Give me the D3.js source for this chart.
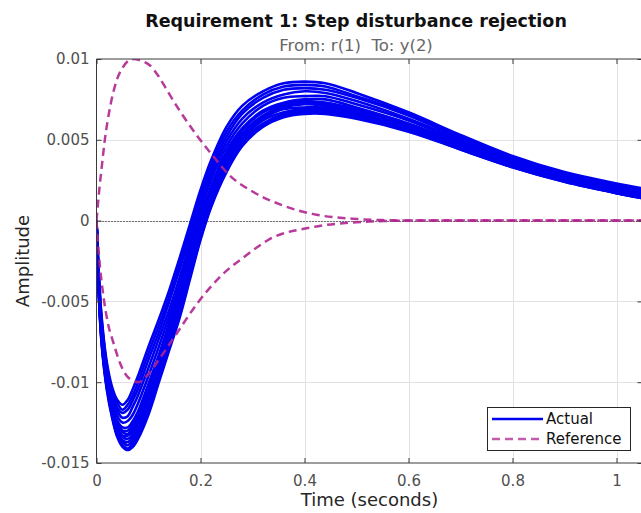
<!DOCTYPE html>
<html>
<head>
<meta charset="utf-8">
<script src="https://cdn.jsdelivr.net/npm/d3@7/dist/d3.min.js"></script>
<style>
  body { margin: 0; background: #fff; }
  svg { display: block; }
  text { font-family: "DejaVu Sans", sans-serif; }
</style>
</head>
<body>
<svg id="chart" width="641" height="513"></svg>
<script>
// ---- data -------------------------------------------------------------
const titleText = "Requirement 1: Step disturbance rejection";
const subtitleText = "From: r(1)  To: y(2)";
const xLabelText = "Time (seconds)";
const yLabelText = "Amplitude";

const xTickValues = [0, 0.2, 0.4, 0.6, 0.8, 1];
const xTickLabels = ["0", "0.2", "0.4", "0.6", "0.8", "1"];
const yTickValues = [-0.015, -0.01, -0.005, 0, 0.005, 0.01];
const yTickLabels = ["-0.015", "-0.01", "-0.005", "0", "0.005", "0.01"];

// sample times shared by every simulated response
const runTime = [0, 0.005, 0.01, 0.02, 0.03, 0.04, 0.05, 0.06, 0.07, 0.08,
                 0.1, 0.12, 0.14, 0.16, 0.18, 0.2, 0.22, 0.25, 0.28, 0.32,
                 0.36, 0.4, 0.44, 0.5, 0.6, 0.7, 0.8, 0.9, 1.0, 1.1];

// step responses of the tuned loop over the uncertain plant set
const runA = [0, -36e-4, -60e-4, -88e-4, -103e-4, -111e-4, -114e-4, -111e-4, -104e-4, -96e-4,
              -78e-4, -61e-4, -43e-4, -23e-4, -2e-4, 19e-4, 37e-4, 58e-4, 71e-4, 80e-4,
              85e-4, 86e-4, 85e-4, 79e-4, 67e-4, 53e-4, 40e-4, 30e-4, 23e-4, 17e-4];
const runB = [0, -37e-4, -62e-4, -90e-4, -105e-4, -113e-4, -117e-4, -114e-4, -108e-4, -100e-4,
              -82e-4, -65e-4, -47e-4, -27e-4, -5e-4, 16e-4, 34e-4, 55e-4, 68e-4, 78e-4,
              83e-4, 84e-4, 83e-4, 77e-4, 66e-4, 52e-4, 39e-4, 29e-4, 22e-4, 16e-4];
const runC = [0, -39e-4, -63e-4, -91e-4, -107e-4, -116e-4, -119e-4, -117e-4, -111e-4, -104e-4,
              -86e-4, -69e-4, -50e-4, -30e-4, -9e-4, 13e-4, 31e-4, 52e-4, 66e-4, 76e-4,
              81e-4, 82e-4, 81e-4, 76e-4, 65e-4, 51e-4, 39e-4, 29e-4, 22e-4, 16e-4];
const runD = [0, -40e-4, -65e-4, -93e-4, -109e-4, -118e-4, -122e-4, -121e-4, -115e-4, -108e-4,
              -91e-4, -73e-4, -55e-4, -35e-4, -13e-4, 9e-4, 28e-4, 49e-4, 63e-4, 73e-4,
              78e-4, 80e-4, 79e-4, 74e-4, 63e-4, 50e-4, 38e-4, 28e-4, 21e-4, 15e-4];
const runE = [0, -42e-4, -67e-4, -95e-4, -111e-4, -121e-4, -125e-4, -124e-4, -120e-4, -113e-4,
              -96e-4, -78e-4, -59e-4, -39e-4, -17e-4, 6e-4, 25e-4, 46e-4, 60e-4, 71e-4,
              76e-4, 77e-4, 77e-4, 72e-4, 62e-4, 49e-4, 37e-4, 27e-4, 20e-4, 14e-4];
const runF = [0, -44e-4, -69e-4, -97e-4, -114e-4, -124e-4, -128e-4, -128e-4, -124e-4, -118e-4,
              -101e-4, -83e-4, -63e-4, -43e-4, -21e-4, 2e-4, 21e-4, 43e-4, 57e-4, 68e-4,
              73e-4, 75e-4, 75e-4, 70e-4, 60e-4, 48e-4, 36e-4, 27e-4, 20e-4, 14e-4];
const runG = [0, -45e-4, -70e-4, -98e-4, -115e-4, -125e-4, -130e-4, -130e-4, -126e-4, -120e-4,
              -104e-4, -85e-4, -66e-4, -46e-4, -23e-4, 0, 19e-4, 41e-4, 56e-4, 67e-4,
              72e-4, 74e-4, 73e-4, 69e-4, 60e-4, 48e-4, 36e-4, 26e-4, 19e-4, 13e-4];
const runH = [0, -45e-4, -71e-4, -99e-4, -116e-4, -126e-4, -131e-4, -132e-4, -128e-4, -122e-4,
              -106e-4, -87e-4, -68e-4, -48e-4, -25e-4, -2e-4, 18e-4, 39e-4, 54e-4, 65e-4,
              71e-4, 73e-4, 72e-4, 68e-4, 59e-4, 47e-4, 35e-4, 26e-4, 19e-4, 13e-4];
const runI = [0, -46e-4, -72e-4, -100e-4, -117e-4, -128e-4, -133e-4, -133e-4, -130e-4, -124e-4,
              -108e-4, -89e-4, -70e-4, -50e-4, -26e-4, -3e-4, 16e-4, 38e-4, 53e-4, 64e-4,
              70e-4, 72e-4, 71e-4, 68e-4, 58e-4, 47e-4, 35e-4, 26e-4, 19e-4, 13e-4];
const runK = [0, -47e-4, -73e-4, -101e-4, -118e-4, -129e-4, -134e-4, -135e-4, -132e-4, -126e-4,
              -111e-4, -91e-4, -72e-4, -52e-4, -29e-4, -5e-4, 14e-4, 36e-4, 52e-4, 63e-4,
              69e-4, 70e-4, 70e-4, 67e-4, 58e-4, 46e-4, 35e-4, 25e-4, 18e-4, 12e-4];
const runL = [0, -48e-4, -74e-4, -102e-4, -119e-4, -130e-4, -136e-4, -137e-4, -134e-4, -129e-4,
              -113e-4, -94e-4, -74e-4, -54e-4, -31e-4, -7e-4, 13e-4, 35e-4, 50e-4, 62e-4,
              67e-4, 69e-4, 69e-4, 66e-4, 57e-4, 45e-4, 34e-4, 25e-4, 18e-4, 12e-4];
const runM = [0, -49e-4, -75e-4, -103e-4, -120e-4, -132e-4, -137e-4, -139e-4, -136e-4, -131e-4,
              -115e-4, -96e-4, -76e-4, -56e-4, -32e-4, -9e-4, 11e-4, 33e-4, 49e-4, 60e-4,
              66e-4, 68e-4, 68e-4, 65e-4, 56e-4, 45e-4, 34e-4, 25e-4, 17e-4, 12e-4];
const runN = [0, -49e-4, -76e-4, -104e-4, -121e-4, -133e-4, -139e-4, -141e-4, -138e-4, -133e-4,
              -118e-4, -98e-4, -78e-4, -58e-4, -34e-4, -11e-4, 9e-4, 31e-4, 47e-4, 59e-4,
              65e-4, 67e-4, 67e-4, 64e-4, 56e-4, 44e-4, 33e-4, 24e-4, 17e-4, 11e-4];
const runO = [0, -50e-4, -77e-4, -105e-4, -122e-4, -134e-4, -140e-4, -142e-4, -140e-4, -135e-4,
              -120e-4, -100e-4, -80e-4, -60e-4, -36e-4, -12e-4, 8e-4, 30e-4, 46e-4, 58e-4,
              64e-4, 66e-4, 66e-4, 63e-4, 55e-4, 44e-4, 33e-4, 24e-4, 17e-4, 11e-4];
const actualRuns = [runA, runB, runC, runD, runE, runF, runG, runH, runI, runK, runL, runM, runN, runO];

// reference envelope of the requirement
const refUpperTime = [0, 0.005, 0.01, 0.016, 0.026, 0.038, 0.051, 0.062, 0.072, 0.085,
                      0.103, 0.12, 0.135, 0.16, 0.19, 0.224, 0.256, 0.3, 0.353, 0.417,
                      0.5, 0.55, 0.6, 0.8, 1.1];
const refUpper = [0, 18e-4, 33e-4, 50e-4, 70e-4, 86e-4, 95e-4, 99e-4, 100e-4, 99e-4,
                  96e-4, 89e-4, 81e-4, 68e-4, 54e-4, 40e-4, 28e-4, 18e-4, 10e-4, 4e-4,
                  1e-4, 0.3e-4, 0, 0, 0];
const refLowerTime = [0, 0.0065, 0.013, 0.023, 0.032, 0.045, 0.058, 0.07, 0.08, 0.1,
                      0.12, 0.154, 0.192, 0.237, 0.29, 0.33, 0.417, 0.5, 0.55, 0.6,
                      0.8, 1.1];
const refLower = [0, -28e-4, -46e-4, -65e-4, -75e-4, -88e-4, -96e-4, -99e-4, -100e-4, -95e-4,
                  -86e-4, -70e-4, -52e-4, -35e-4, -21e-4, -12e-4, -4e-4, -1e-4, -0.3e-4, 0,
                  0, 0];

const legendLabels = ["Actual", "Reference"];

// ---- layout -----------------------------------------------------------
const svg = d3.select("#chart");
const box = { left: 96.5, right: 642.5, top: 59, bottom: 463 };

const x = d3.scaleLinear().domain([0, 1.05]).range([box.left, box.right]);
const y = d3.scaleLinear().domain([-0.015, 0.01]).range([box.bottom, box.top]);

const axisColor = "#3a3a3a";
const tickTextColor = "#505050";
const actualColor = "#0000f0";
const refColor = "#b0258f";

svg.append("defs").append("clipPath").attr("id", "plotClip")
  .append("rect")
  .attr("x", box.left).attr("y", box.top)
  .attr("width", box.right - box.left).attr("height", box.bottom - box.top);

// grid
const grid = svg.append("g").attr("stroke", "#e2e2e2").attr("stroke-width", 1);
grid.selectAll("line.gx").data(xTickValues.filter(v => v > 0)).join("line")
  .attr("x1", d => Math.round(x(d)) + 0.5).attr("x2", d => Math.round(x(d)) + 0.5)
  .attr("y1", box.top).attr("y2", box.bottom);
grid.selectAll("line.gy").data(yTickValues.filter(v => v > -0.015 && v < 0.01)).join("line")
  .attr("x1", box.left).attr("x2", box.right)
  .attr("y1", d => Math.round(y(d)) + 0.5).attr("y2", d => Math.round(y(d)) + 0.5);

const plotArea = svg.append("g").attr("clip-path", "url(#plotClip)");

// zero baseline
plotArea.append("line")
  .attr("x1", box.left).attr("x2", box.right)
  .attr("y1", Math.round(y(0)) + 0.5).attr("y2", Math.round(y(0)) + 0.5)
  .attr("stroke", "#000").attr("stroke-width", 1.2).attr("stroke-dasharray", "1,2");

// actual responses
const runLine = d3.line()
  .x((d, i) => x(runTime[i]))
  .y(d => y(d))
  .curve(d3.curveCatmullRom.alpha(0.5));

plotArea.append("g").selectAll("path").data(actualRuns).join("path")
  .attr("d", runLine)
  .attr("fill", "none")
  .attr("stroke", actualColor)
  .attr("stroke-width", 2.6)
  .attr("stroke-linejoin", "round");

// reference bounds
const refLine = d3.line()
  .x(d => x(d[0]))
  .y(d => y(d[1]))
  .curve(d3.curveMonotoneX);

const refSeries = [
  d3.zip(refUpperTime, refUpper),
  d3.zip(refLowerTime, refLower)
];
plotArea.append("g").selectAll("path").data(refSeries).join("path")
  .attr("d", refLine)
  .attr("fill", "none")
  .attr("stroke", refColor)
  .attr("stroke-opacity", 0.9)
  .attr("stroke-width", 2.5)
  .attr("stroke-dasharray", "8,5");

// axes frame
const frame = svg.append("g").attr("stroke", axisColor).attr("stroke-width", 1).attr("fill", "none");
frame.append("path")
  .attr("d", `M${box.left},${box.top}H${box.right}`);

const yAxis = d3.axisLeft(y)
  .tickValues(yTickValues)
  .tickFormat((d, i) => yTickLabels[i])
  .tickSize(-5)
  .tickPadding(7);
const xAxis = d3.axisBottom(x)
  .tickValues(xTickValues)
  .tickFormat((d, i) => xTickLabels[i])
  .tickSize(-5)
  .tickPadding(12);
const xTopAxis = d3.axisTop(x)
  .tickValues(xTickValues)
  .tickFormat("")
  .tickSize(-5);
const yRightAxis = d3.axisRight(y)
  .tickValues(yTickValues)
  .tickFormat("")
  .tickSize(-5);

function styleAxis(g) {
  g.select(".domain").attr("stroke", axisColor);
  g.selectAll(".tick line").attr("stroke", axisColor);
  g.selectAll(".tick text")
    .attr("fill", tickTextColor)
    .style("font-family", '"DejaVu Sans", sans-serif')
    .style("font-size", "15px");
}

svg.append("g").attr("transform", `translate(${box.left},0)`).call(yAxis).call(styleAxis)
  .select(".domain").attr("d", `M0,${box.top}V${box.bottom}`);
svg.append("g").attr("transform", `translate(0,${box.bottom})`).call(xAxis).call(styleAxis)
  .select(".domain").attr("d", `M${box.left},0H${box.right}`);
svg.append("g").attr("transform", `translate(0,${box.top})`).call(xTopAxis).call(styleAxis)
  .select(".domain").remove();
svg.append("g").attr("transform", `translate(${box.right},0)`).call(yRightAxis).call(styleAxis)
  .select(".domain").attr("d", `M0,${box.top}V${box.bottom}`);

// titles and axis labels
const midX = (box.left + box.right) / 2;
svg.append("text")
  .attr("x", 356).attr("y", 27)
  .attr("text-anchor", "middle")
  .attr("font-size", 17.5).attr("font-weight", "bold").attr("fill", "#111")
  .text(titleText);
svg.append("text")
  .attr("x", 356).attr("y", 51)
  .attr("text-anchor", "middle")
  .style("white-space", "pre")
  .attr("font-size", 16.5).attr("fill", "#666")
  .text(subtitleText);
svg.append("text")
  .attr("x", midX).attr("y", 506)
  .attr("text-anchor", "middle")
  .attr("font-size", 18).attr("fill", "#262626")
  .text(xLabelText);
svg.append("text")
  .attr("transform", `translate(29,${(box.top + box.bottom) / 2}) rotate(-90)`)
  .attr("text-anchor", "middle")
  .attr("font-size", 18).attr("fill", "#262626")
  .text(yLabelText);

// legend
const legend = svg.append("g").attr("transform", "translate(487,407)");
legend.append("rect")
  .attr("x", 0.5).attr("y", 0.5).attr("width", 143).attr("height", 43)
  .attr("fill", "#fff").attr("stroke", "#262626").attr("stroke-width", 1);
const legendStyles = [
  { color: actualColor, dash: null, width: 2.4 },
  { color: refColor, dash: "8,5", width: 2.5 }
];
legendLabels.forEach((label, i) => {
  const cy = 12 + i * 20;
  legend.append("line")
    .attr("x1", 5).attr("x2", 56).attr("y1", cy).attr("y2", cy)
    .attr("stroke", legendStyles[i].color)
    .attr("stroke-width", legendStyles[i].width)
    .attr("stroke-opacity", i === 1 ? 0.75 : 1)
    .attr("stroke-dasharray", legendStyles[i].dash);
  legend.append("text")
    .attr("x", 59).attr("y", cy + 5)
    .attr("font-size", 15).attr("fill", "#111")
    .text(label);
});
</script>
</body>
</html>
